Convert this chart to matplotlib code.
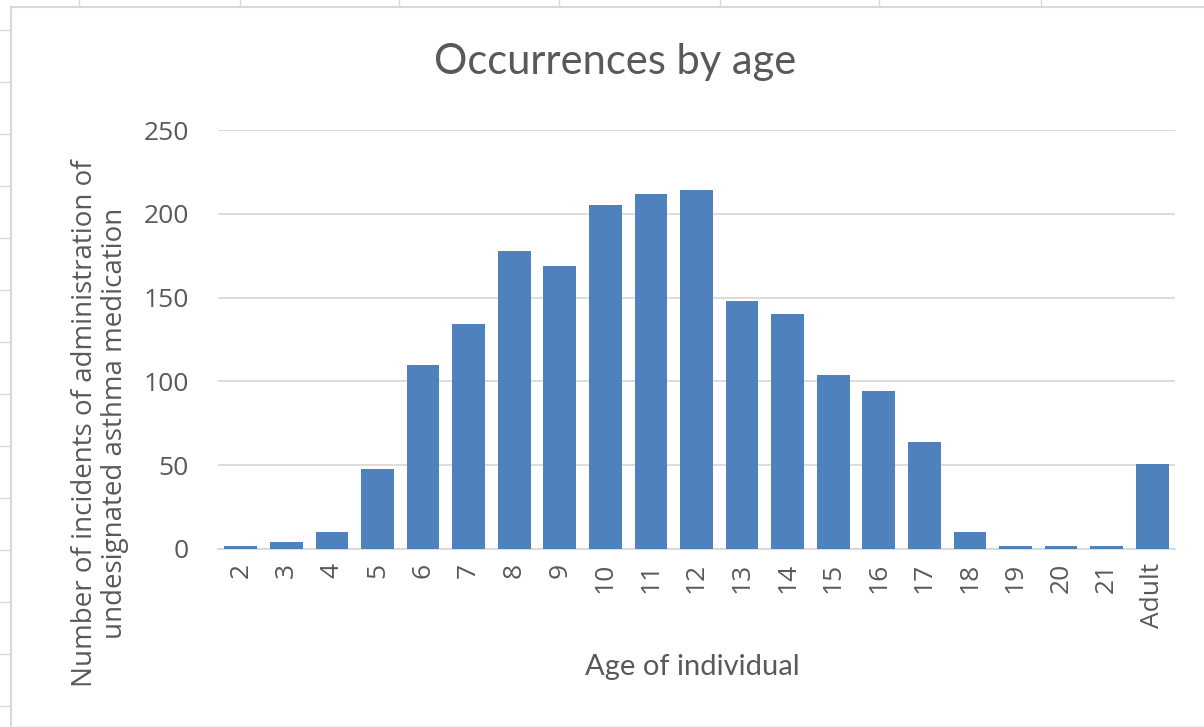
import matplotlib.pyplot as plt
from matplotlib.lines import Line2D

ages = ['2', '3', '4', '5', '6', '7', '8', '9', '10', '11', '12', '13', '14',
        '15', '16', '17', '18', '19', '20', '21', 'Adult']
counts = [2, 4, 10, 48, 110, 134, 178, 169, 205, 212, 214, 148, 140,
          104, 94, 64, 10, 2, 2, 2, 51]

grey = '#595959'
blue = '#4F81BD'

fig = plt.figure(figsize=(12.04, 7.27), dpi=100)
ax = fig.add_axes([218 / 1204, 1 - 549 / 727, (1175 - 218) / 1204, (549 - 130) / 727])

x = range(len(ages))
ax.bar(x, counts, width=0.72, color=blue, zorder=3)
ax.set_xlim(-0.5, len(ages) - 0.5)
ax.set_ylim(0, 250)
ax.set_yticks([0, 50, 100, 150, 200, 250])
ax.set_xticks(list(x))
ax.set_xticklabels(ages, rotation=90, fontsize=19, color=grey, family='Open Sans')
for lab in ax.get_yticklabels():
    lab.set_fontsize(19)
    lab.set_color(grey)
    lab.set_family('Open Sans')
ax.tick_params(axis='both', length=0)
ax.tick_params(axis='y', pad=21)
ax.tick_params(axis='x', pad=10)
ax.grid(axis='y', color='#D9D9D9', linewidth=1.3, zorder=0)
for s in ['top', 'right', 'left']:
    ax.spines[s].set_visible(False)
ax.spines['bottom'].set_color('#D9D9D9')
ax.spines['bottom'].set_linewidth(1.3)

fig.text(615 / 1204, 1 - 62 / 727, 'Occurrences by age', ha='center', va='center',
         fontsize=30, color=grey, family='Lato')
fig.text(692 / 1204, 1 - 667 / 727, 'Age of individual', ha='center', va='center',
         fontsize=21, color=grey, family='Lato')
fig.text(100 / 1204, 1 - 423 / 727,
         'Number of incidents of administration of\nundesignated asthma medication',
         ha='center', va='center', rotation=90, fontsize=20, color=grey,
         family='Open Sans', linespacing=1.1)

# chart frame / spreadsheet edges
W, H = 1204, 727
frame = '#D9D9D9'
fig.add_artist(Line2D([11 / W, 11 / W], [0, 1 - 7 / H], color=frame, lw=1.5))
fig.add_artist(Line2D([11 / W, 1], [1 - 7 / H, 1 - 7 / H], color=frame, lw=1.5))
fig.add_artist(Line2D([11 / W, 1], [1 / H, 1 / H], color='#EEEEEE', lw=1))
for cx in [79, 240, 399, 559, 720, 879, 1041]:
    fig.add_artist(Line2D([cx / W, cx / W], [1 - 7 / H, 1], color=frame, lw=1))
for ry in range(30, 727, 52):
    fig.add_artist(Line2D([0, 11 / W], [1 - ry / H, 1 - ry / H], color=frame, lw=1))

fig.savefig('out.png', dpi=100)
